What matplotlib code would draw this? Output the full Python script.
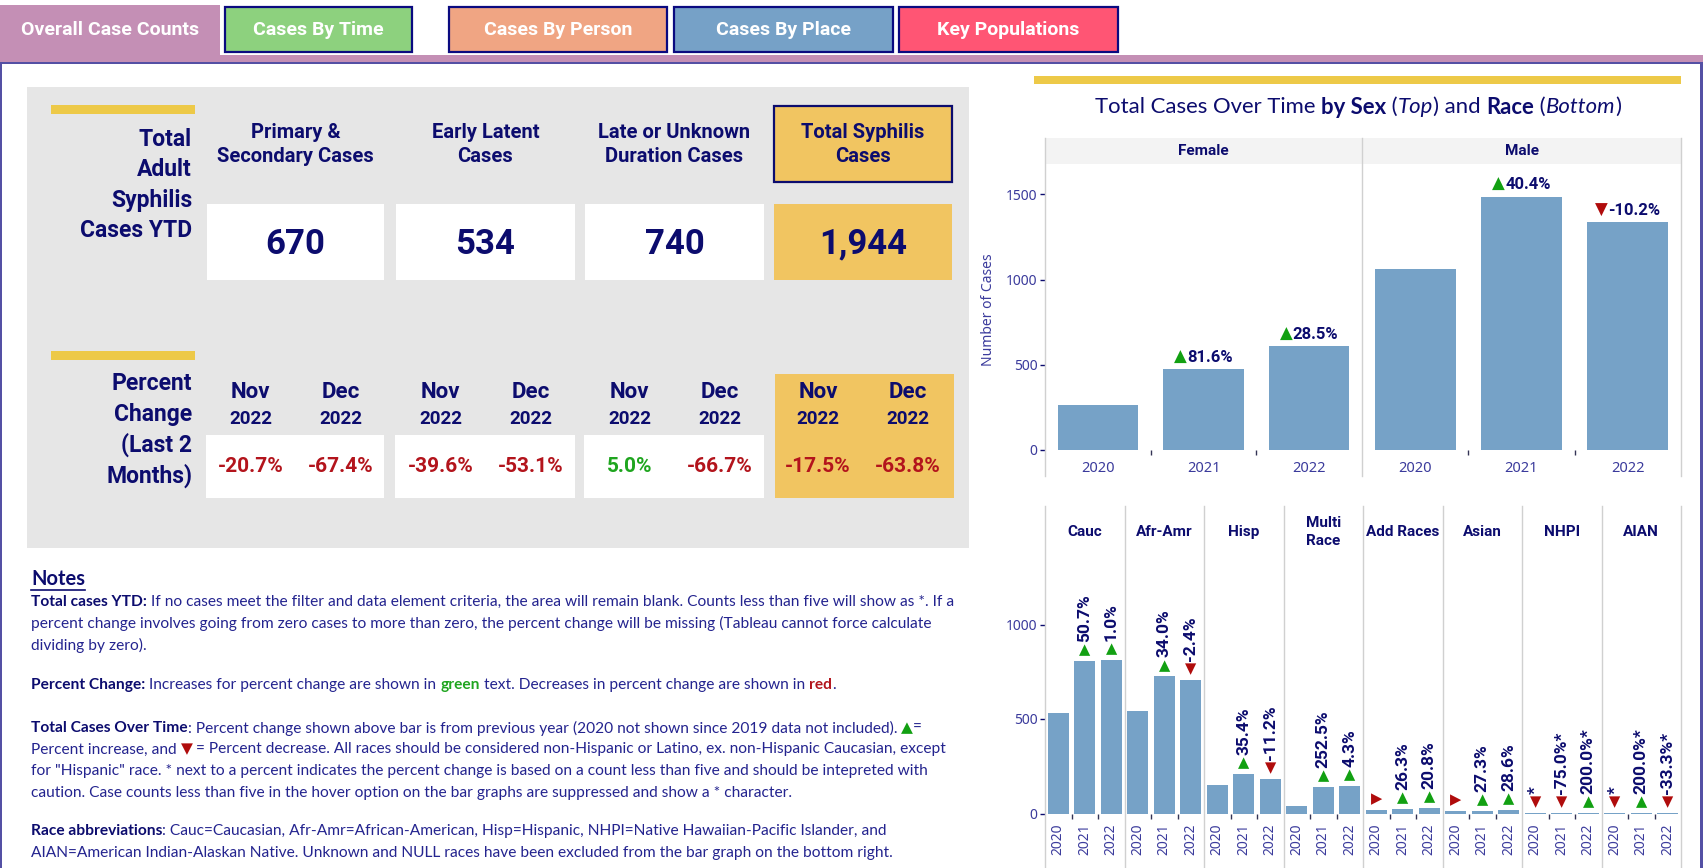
import matplotlib
matplotlib.use("Agg")
import matplotlib.pyplot as plt
from matplotlib.patches import Rectangle
from matplotlib.lines import Line2D
from matplotlib.textpath import TextPath
from matplotlib.font_manager import FontProperties

W, H = 1703, 868

# ---- data -------------------------------------------------------------
tab_names = ["Overall Case Counts", "Cases By Time", "Cases By Person",
             "Cases By Place", "Key Populations"]
tab_colors = ["#C48FB5", "#8DD17E", "#F0A583", "#76A1C7", "#FF5574"]

kpi_titles = ["Primary &\nSecondary Cases", "Early Latent\nCases",
              "Late or Unknown\nDuration Cases", "Total Syphilis\nCases"]
kpi_values = [670, 534, 740, 1944]
pct_months = ["Nov", "Dec"]
pct_year = "2022"
pct_change = [[-20.7, -67.4], [-39.6, -53.1], [5.0, -66.7], [-17.5, -63.8]]

years = ["2020", "2021", "2022"]
sex_groups = ["Female", "Male"]
sex_cases = [[260, 472, 607], [1059, 1487, 1336]]
sex_change = [[None, 81.6, 28.5], [None, 40.4, -10.2]]

race_groups = ["Cauc", "Afr-Amr", "Hisp", "Multi\nRace", "Add Races",
               "Asian", "NHPI", "AIAN"]
race_cases = [[534, 805, 813], [541, 725, 707], [153, 207, 184],
              [40, 141, 147], [19, 24, 29], [11, 14, 18], [4, 1, 3], [1, 3, 2]]
race_marks = [["", "up", "up"], ["", "up", "down"], ["", "up", "down"],
              ["", "up", "up"], ["side", "up", "up"], ["side", "up", "up"],
              ["down", "down", "up"], ["down", "up", "down"]]
race_change = [["", "50.7%", "1.0%"], ["", "34.0%", "-2.4%"],
               ["", "35.4%", "-11.2%"], ["", "252.5%", "4.3%"],
               ["", "26.3%", "20.8%"], ["", "27.3%", "28.6%"],
               ["*", "-75.0%*", "200.0%*"], ["*", "200.0%*", "-33.3%*"]]

# ---- styles -----------------------------------------------------------
NAVY = "#0C0C6E"
NAVY_TXT = "#24248F"
TICK = "#3B3B9C"
RED = "#B3141C"
GREEN = "#1FA51F"
TRI_GREEN = "#12A012"
TRI_RED = "#B00C0C"
GOLD = "#F1C561"
YELLOW = "#EDC948"
PANEL = "#E6E6E6"
BAR = "#76A2C7"
SEP = "#D0D0D0"
FONT = ["Lato", "DejaVu Sans"]
HFONT = ["Roboto", "DejaVu Sans"]
TFONT = ["Noto Sans", "DejaVu Sans"]

fig = plt.figure(figsize=(W / 100, H / 100), dpi=100)
fig.patch.set_facecolor("white")
R = fig.canvas.get_renderer()


def rect(x0, y0, x1, y1, fc, ec="none", lw=0, z=1):
    fig.add_artist(Rectangle((x0 / W, 1 - y1 / H), (x1 - x0) / W, (y1 - y0) / H,
                             transform=fig.transFigure, facecolor=fc,
                             edgecolor=ec, linewidth=lw, zorder=z))


def line(x0, y0, x1, y1, color, lw=1, z=2):
    fig.add_artist(Line2D([x0 / W, x1 / W], [1 - y0 / H, 1 - y1 / H],
                          transform=fig.transFigure, color=color, lw=lw, zorder=z))


def text(x, y, s, **kw):
    kw.setdefault("family", FONT)
    return fig.text(x / W, 1 - y / H, s, **kw)


def measure(s, **kw):
    t1 = fig.text(0, 0, s + "|", **kw)
    t2 = fig.text(0, 0, "|", **kw)
    w = t1.get_window_extent(R).width - t2.get_window_extent(R).width
    t1.remove()
    t2.remove()
    return w


def runs(x, y, parts, size, align="left", family=FONT, measure_only=False):
    # parts: (text, color, weight, style)
    widths = [measure(p[0], fontsize=size, fontweight=p[2], fontstyle=p[3],
                      family=family) for p in parts]
    total = sum(widths)
    if measure_only:
        return total
    if align == "center":
        x -= total / 2
    for (s, c, wgt, st), w in zip(parts, widths):
        text(x, y, s, fontsize=size, color=c, fontweight=wgt, fontstyle=st,
             family=family, ha="left", va="center")
        x += w
    return total


# ---- tabs and frame ---------------------------------------------------
rect(0, 55, W, 62, tab_colors[0], z=1)
rect(0, 5, 220, 62, tab_colors[0], z=1)
text(110, 30, tab_names[0], fontsize=14, color="white", fontweight="bold",
     ha="center", va="center", family=HFONT)
tab_x = [(225, 412), (449, 667), (674, 893), (899, 1118)]
for (x0, x1), name, col in zip(tab_x, tab_names[1:], tab_colors[1:]):
    rect(x0 - 3, 4, x1 + 3, 55, "white", z=1)
    rect(x0, 7, x1, 52, col, ec="#0A0A80", lw=1.6, z=2)
    text((x0 + x1) / 2, 30, name, fontsize=14, color="white",
         fontweight="bold", ha="center", va="center", family=HFONT)
rect(0, 62, W, 64, "#5450A4", z=3)
rect(0, 62, 2, H, "#5450A4", z=3)
rect(W - 3, 62, W, H, "#5450A4", z=3)

# ---- left KPI panel ---------------------------------------------------
rect(27, 87, 969, 548, PANEL)
rect(51, 105, 195, 114, YELLOW, z=2)
rect(51, 351, 195, 360, YELLOW, z=2)

for i, s in enumerate(["Total", "Adult", "Syphilis", "Cases YTD"]):
    text(192, 139 + 30.5 * i, s, fontsize=16.5, color=NAVY, fontweight="bold",
         ha="right", va="center", family=HFONT)
for i, s in enumerate(["Percent", "Change", "(Last 2", "Months)"]):
    text(192, 383 + 31 * i, s, fontsize=16.5, color=NAVY, fontweight="bold",
         ha="right", va="center", family=HFONT)

col_x = [(207, 384), (396, 575), (585, 764), (774, 952)]
rect(774, 106, 952, 182, GOLD, ec=NAVY, lw=1.6, z=2)
for k, ((x0, x1), title, val) in enumerate(zip(col_x, kpi_titles, kpi_values)):
    cx = (x0 + x1) / 2
    for j, s in enumerate(title.split("\n")):
        text(cx, 133 + 23.5 * j, s, fontsize=14.5, color=NAVY,
             fontweight="bold", ha="center", va="center", zorder=3, family=HFONT)
    rect(x0, 204, x1, 280, GOLD if k == 3 else "white", z=2)
    text(cx, 244, f"{val:,}", fontsize=25, color=NAVY, fontweight="bold",
         ha="center", va="center", zorder=3, family=HFONT)

    if k == 3:
        rect(x0 + 1, 374, x1 + 2, 498, GOLD, z=2)
    else:
        rect(x0 - 1, 435, x1, 498, "white", z=2)
    for j, m in enumerate(pct_months):
        mx = cx + (-45 if j == 0 else 45)
        text(mx, 392, m, fontsize=16, color=NAVY, fontweight="bold",
             ha="center", va="center", zorder=3, family=HFONT)
        text(mx, 419, pct_year, fontsize=13.5, color=NAVY, fontweight="bold",
             ha="center", va="center", zorder=3, family=HFONT)
        v = pct_change[k][j]
        text(mx, 467, f"{v:.1f}%", fontsize=15, color=GREEN if v > 0 else RED,
             fontweight="bold", ha="center", va="center", zorder=3, family=HFONT)

# ---- notes ------------------------------------------------------------
B, N = "bold", "normal"
note_lines = [
    (602, [("Total cases YTD:", NAVY, B, N),
           (" If no cases meet the filter and data element criteria, the area will remain blank. "
            "Counts less than five will show as *. If a", NAVY_TXT, N, N)]),
    (623.5, [("percent change involves going from zero cases to more than zero, the percent "
              "change will be missing (Tableau cannot force calculate", NAVY_TXT, N, N)]),
    (645, [("dividing by zero).", NAVY_TXT, N, N)]),
    (685, [("Percent Change:", NAVY, B, N),
           (" Increases for percent change are shown in ", NAVY_TXT, N, N),
           ("green", GREEN, B, N),
           (" text. Decreases in percent change are shown in ", NAVY_TXT, N, N),
           ("red", RED, B, N), (".", NAVY_TXT, N, N)]),
    (728, [("Total Cases Over Time", NAVY, B, N),
           (": Percent change shown above bar is from previous year (2020 not shown since "
            "2019 data not included). ", NAVY_TXT, N, N),
           ("▲", TRI_GREEN, N, N), ("=", NAVY_TXT, N, N)]),
    (749.5, [("Percent increase, and ", NAVY_TXT, N, N), ("▼", TRI_RED, N, N),
             (" = Percent decrease. All races should be considered non-Hispanic or Latino, "
              "ex. non-Hispanic Caucasian, except", NAVY_TXT, N, N)]),
    (771, [("for \"Hispanic\" race. * next to a percent indicates the percent change is based "
            "on a count less than five and should be intepreted with", NAVY_TXT, N, N)]),
    (792.5, [("caution. Case counts less than five in the hover option on the bar graphs are "
              "suppressed and show a * character.", NAVY_TXT, N, N)]),
    (831, [("Race abbreviations", NAVY, B, N),
           (": Cauc=Caucasian, Afr-Amr=African-American, Hisp=Hispanic, NHPI=Native "
            "Hawaiian-Pacific Islander, and", NAVY_TXT, N, N)]),
    (852.5, [("AIAN=American Indian-Alaskan Native. Unknown and NULL races have been "
              "excluded from the bar graph on the bottom right.", NAVY_TXT, N, N)]),
]
w10 = runs(0, 0, note_lines[0][1], 10, measure_only=True)
note_size = 10 * 921 / w10
for y, parts in note_lines:
    runs(31, y, parts, note_size)
nt = text(31, 579, "Notes", fontsize=14.5, color=NAVY, fontweight="bold",
          ha="left", va="center")
line(31, 590, 31 + nt.get_window_extent(R).width, 590, NAVY, lw=1.2)

# ---- right charts -----------------------------------------------------
rect(1034, 76, 1681, 84, YELLOW)
title_parts = [("Total Cases Over Time ", NAVY, N, N), ("by Sex", NAVY, B, N),
               (" (", NAVY, N, N), ("Top", NAVY, N, "italic"),
               (") and ", NAVY, N, N), ("Race", NAVY, B, N), (" (", NAVY, N, N),
               ("Bottom", NAVY, N, "italic"), (")", NAVY, N, N)]
tw = runs(0, 0, title_parts, 14, measure_only=True)
runs(1358, 107, title_parts, 14 * 528 / tw, align="center")


def axes_px(x0, y0, x1, y1):
    ax = fig.add_axes([x0 / W, 1 - y1 / H, (x1 - x0) / W, (y1 - y0) / H])
    ax.set_facecolor("none")
    for sp in ax.spines.values():
        sp.set_visible(False)
    return ax


def style_axes(ax, yticks, first):
    ax.set_xlim(-0.5, 2.5)
    ax.set_xticks([0.5, 1.5], minor=True)
    ax.tick_params(axis="x", which="major", length=0, colors=TICK)
    ax.tick_params(axis="x", which="minor", length=3.5, width=1, color="#333355")
    if first:
        ax.set_yticks(yticks)
        ax.set_yticklabels([str(t) for t in yticks], family=TFONT)
        ax.tick_params(axis="y", length=3.5, width=1, color=NAVY,
                       labelcolor=TICK, labelsize=10, pad=2)
    else:
        ax.set_yticks([])


# top: by sex
rect(1045, 138, 1681, 164, "#F3F3F3")
sex_x = [(1045, 1362), (1362, 1681)]
for x in (1045, 1362, 1681):
    line(x, 138, x, 476, SEP)
for k, ((x0, x1), grp) in enumerate(zip(sex_x, sex_groups)):
    text((x0 + x1) / 2, 151, grp, fontsize=11, color=NAVY, fontweight="bold",
         ha="center", va="center", family=HFONT)
    ax = axes_px(x0, 164, x1, 449.6)
    ax.bar(range(3), sex_cases[k], width=0.76, color=BAR, zorder=2)
    ax.set_ylim(0, 285.6 / 0.1701)
    ax.set_xticks(range(3))
    ax.set_xticklabels(years, family=TFONT, fontsize=10.5)
    ax.tick_params(axis="x", pad=8)
    style_axes(ax, [0, 500, 1000, 1500], k == 0)
    for i, pct in enumerate(sex_change[k]):
        if pct is None:
            continue
        px, py = ax.transData.transform((i, sex_cases[k][i]))
        parts = [("▲" if pct > 0 else "▼", TRI_GREEN if pct > 0 else TRI_RED, N, N),
                 (f"{pct:.1f}%", NAVY, B, N)]
        runs(px, H - py - 12, parts, 12, align="center", family=HFONT)
text(988, 310, "Number of Cases", fontsize=10, color=TICK, rotation=90,
     ha="center", va="center", family=TFONT)

# bottom: by race
step = (1681 - 1045) / len(race_groups)
for j in range(len(race_groups) + 1):
    line(1045 + step * j, 506, 1045 + step * j, H, SEP)
tri = {"up": ("▲", TRI_GREEN), "down": ("▼", TRI_RED), "side": ("▶", TRI_RED)}
TRI_SIZE = 10.5
tri_fp = FontProperties(family="DejaVu Sans", size=TRI_SIZE)
for k, grp in enumerate(race_groups):
    x0 = 1045 + step * k
    text(x0 + step / 2, 532, grp, fontsize=11, color=NAVY, fontweight="bold",
         ha="center", va="center", linespacing=1.35, family=HFONT)
    ax = axes_px(x0, 556, x0 + step, 813.5)
    ax.bar(range(3), race_cases[k], width=0.78, color=BAR, zorder=2)
    ax.set_ylim(0, (813.5 - 556) / 0.189)
    ax.set_xticks(range(3))
    ax.set_xticklabels(years, rotation=90, family=TFONT, fontsize=10)
    ax.tick_params(axis="x", pad=7)
    style_axes(ax, [0, 500, 1000], k == 0)
    for i in range(3):
        mark = race_marks[k][i]
        if not mark:
            continue
        px, py = ax.transData.transform((i, race_cases[k][i]))
        g, c = tri[mark]
        ext = TextPath((0, 0), g, prop=tri_fp).get_extents()
        base = py + 5 - ext.y0 * 100 / 72
        fig.text(px / W, base / H, g, fontsize=TRI_SIZE, color=c,
                 family=["DejaVu Sans"], ha="center", va="baseline")
        top = base + ext.y1 * 100 / 72
        lab = race_change[k][i]
        if lab:
            fig.text(px / W, (top + 3) / H, lab, fontsize=12.5, color=NAVY,
                     fontweight="bold", family=HFONT, rotation=90,
                     rotation_mode="anchor", ha="left", va="center")

fig.savefig("out.png", dpi=100)
